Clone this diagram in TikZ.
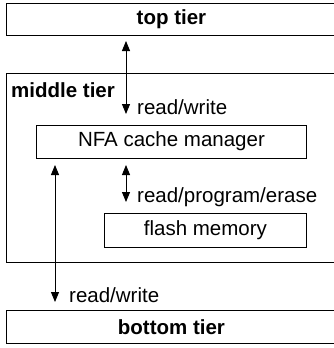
\documentclass[tikz,border=0pt]{standalone}
\usepackage{fontspec}
\setmainfont{Liberation Sans}
\usetikzlibrary{arrows.meta}

\tikzset{
  caja/.style={draw, line width=0.9pt, anchor=north west, inner sep=0pt,
    font=\fontsize{20.5}{24}\selectfont},
  flecha/.style={line width=0.9pt,
    {Triangle[length=10pt,width=8pt]}-{Triangle[length=10pt,width=8pt]}},
  etiqueta/.style={anchor=base west, inner sep=0pt,
    font=\fontsize{20.5}{24}\selectfont}
}

\begin{document}
\begin{tikzpicture}[x=1pt, y=-1pt]

    \useasboundingbox (0,0) rectangle (334,348);

    % Niveles
    \node[caja, minimum width=330pt, minimum height=32pt,
      font=\fontsize{20.5}{24}\selectfont\bfseries] (top) at (6,3) {top tier};

    \node[caja, minimum width=330pt, minimum height=189.5pt] (middle) at (6,72.5) {};
    \node[etiqueta, font=\fontsize{20.5}{24}\selectfont\bfseries] (middlename) at (11,97) {middle tier};

    \node[caja, minimum width=330pt, minimum height=33pt,
      font=\fontsize{20.5}{24}\selectfont\bfseries] (bottom) at (6,310) {bottom tier};

    % Dentro del nivel medio
    \node[caja, minimum width=270pt, minimum height=33pt] (nfa) at (36,124.5) {NFA cache manager};
    \node[caja, minimum width=202pt, minimum height=34pt] (flash) at (104,213) {flash memory};

    % Extremos de las flechas
    \coordinate (a1) at (126,41);
    \coordinate (b1) at (126,114);
    \coordinate (a2) at (55,165);
    \coordinate (b2) at (55,302);
    \coordinate (a3) at (126,165);
    \coordinate (b3) at (126,202);

    % Flechas
    \draw[flecha] (a1) -- (b1);
    \draw[flecha] (a3) -- (b3);
    \draw[flecha] (a2) -- (b2);

    % Etiquetas
    \node[etiqueta] (rwup) at (137,114) {read/write};
    \node[etiqueta] (rpe) at (137,202) {read/program/erase};
    \node[etiqueta] (rwdown) at (69,302) {read/write};

\end{tikzpicture}
\end{document}
